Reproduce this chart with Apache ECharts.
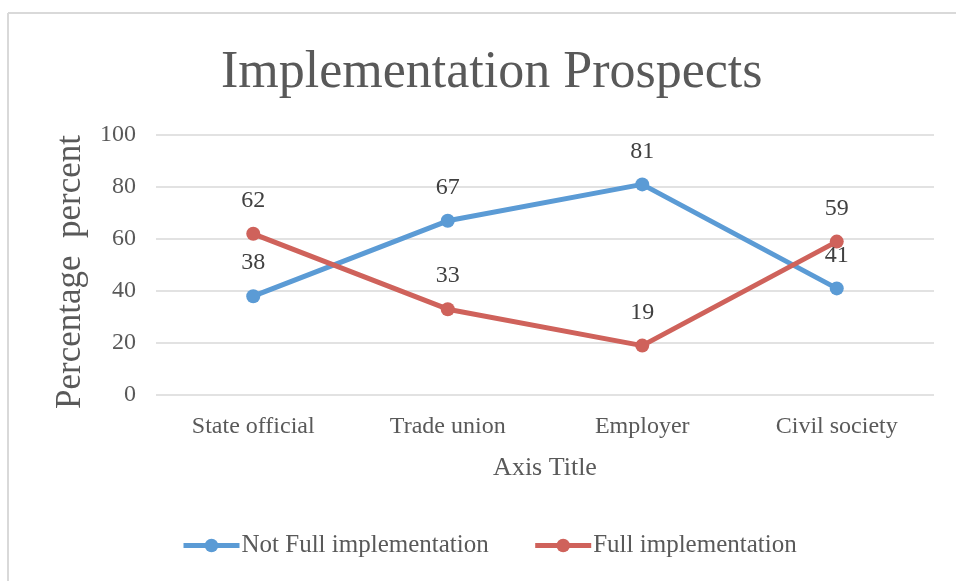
<!DOCTYPE html>
<html>
<head>
<meta charset="utf-8">
<script src="https://cdn.jsdelivr.net/npm/echarts@6/dist/echarts.min.js"></script>
<style>
  html, body { margin: 0; padding: 0; background: #fff; }
  #chart { width: 956px; height: 581px; }
</style>
</head>
<body>
<div id="chart"></div>
<script>
// categories and values
var categories = ['State official', 'Trade union', 'Employer', 'Civil society']
var notFull = [38, 67, 81, 41]
var full = [62, 33, 19, 59]
var seriesNames = ['Not Full implementation', 'Full implementation']

var FONT = 'Liberation Serif'
var TEXT = '#595959'

var chart = echarts.init(document.getElementById('chart'))

function lineSeries (name, data, color) {
  return {
    name: name,
    type: 'line',
    data: data,
    symbol: 'circle',
    symbolSize: 14,
    lineStyle: { width: 5, color: color },
    itemStyle: { color: color },
    label: {
      show: true,
      position: 'top',
      distance: 14,
      fontFamily: FONT,
      fontSize: 24,
      color: '#404040'
    },
    emphasis: { disabled: true }
  }
}

chart.setOption({
  animation: false,
  title: {
    text: 'Implementation Prospects',
    left: 216,
    top: 42,
    textStyle: { fontFamily: FONT, fontSize: 52, fontWeight: 'normal', color: TEXT }
  },
  // chart-area frame (left and top edges only are visible in the reference)
  graphic: [
    { type: 'line', shape: { x1: 8, y1: 13, x2: 956, y2: 13 }, style: { stroke: '#d9d9d9', lineWidth: 2 } },
    { type: 'line', shape: { x1: 8, y1: 13, x2: 8, y2: 581 }, style: { stroke: '#d9d9d9', lineWidth: 2 } }
  ],
  legend: {
    bottom: 18,
    left: 176,
    itemWidth: 56,
    itemHeight: 17,
    itemGap: 44,
    lineStyle: { width: 5 },
    textStyle: { fontFamily: FONT, fontSize: 25, color: TEXT, padding: [0, 0, 0, -3] },
    data: seriesNames
  },
  grid: { left: 156, right: 22, top: 135, bottom: 186, containLabel: false },
  xAxis: {
    type: 'category',
    data: categories,
    boundaryGap: true,
    name: 'Axis Title',
    nameLocation: 'middle',
    nameGap: 60,
    nameTextStyle: { fontFamily: FONT, fontSize: 26, color: TEXT },
    axisLine: { show: false },
    axisTick: { show: false },
    axisLabel: { fontFamily: FONT, fontSize: 24, color: TEXT, margin: 20 }
  },
  yAxis: {
    type: 'value',
    min: 0,
    max: 100,
    interval: 20,
    name: 'Percentage  percent',
    nameLocation: 'middle',
    nameGap: 68,
    nameTextStyle: { fontFamily: FONT, fontSize: 35, color: TEXT, padding: [0, 14, 0, 0] },
    axisLine: { show: false },
    axisTick: { show: false },
    axisLabel: { fontFamily: FONT, fontSize: 24, color: TEXT, margin: 20 },
    splitLine: { lineStyle: { color: '#d9d9d9', width: 1.5 } }
  },
  series: [
    lineSeries(seriesNames[0], notFull, '#5B9BD5'),
    lineSeries(seriesNames[1], full, '#CF625B')
  ]
})
</script>
</body>
</html>
